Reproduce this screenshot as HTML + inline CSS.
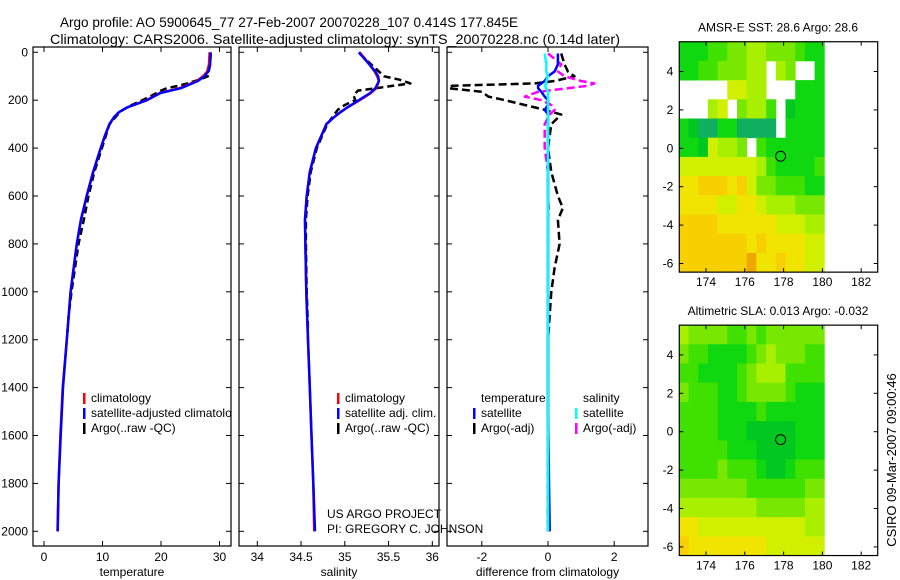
<!DOCTYPE html>
<html><head><meta charset="utf-8">
<style>
html,body{margin:0;padding:0;background:#fff;}
svg{display:block;font-family:"Liberation Sans",sans-serif;}
text{fill:#000;}
</style></head>
<body>
<svg id="fig" width="900" height="580" viewBox="0 0 900 580" xmlns="http://www.w3.org/2000/svg">
<text x="60" y="27" font-size="14" textLength="458" lengthAdjust="spacingAndGlyphs">Argo profile: AO 5900645_77 27-Feb-2007 20070228_107 0.414S 177.845E</text>
<text x="50" y="44" font-size="14" textLength="570" lengthAdjust="spacingAndGlyphs">Climatology: CARS2006. Satellite-adjusted climatology: synTS_20070228.nc (0.14d later)</text>
<g id="plots"></g>
<text x="327" y="518" font-size="12">US ARGO PROJECT</text>
<text x="327" y="533" font-size="12">PI: GREGORY C. JOHNSON</text>
<text transform="translate(896,460) rotate(-90)" text-anchor="middle" font-size="13">CSIRO 09-Mar-2007 09:00:46</text>
</svg>
<script>
// ---- profile data ----
const presClim = [0,50,80,100,120,150,170,200,230,250,270,300,350,400,500,600,700,800,1000,1200,1400,1600,1800,2000];
const tempClim = [28.3,28.2,27.9,27.2,26.1,23.2,19.8,17.5,14.2,12.8,12.0,11.2,10.4,9.7,8.4,7.3,6.3,5.6,4.55,3.9,3.2,2.8,2.5,2.3];
const tempSatAdj = [28.5,28.4,28.1,27.4,26.3,23.4,19.9,17.6,14.2,12.8,12.0,11.2,10.4,9.7,8.4,7.3,6.3,5.6,4.55,3.9,3.25,2.85,2.5,2.34];
const salClim = [35.17,35.28,35.34,35.37,35.39,35.36,35.3,35.17,35.03,34.95,34.88,34.79,34.73,34.67,34.6,34.565,34.545,34.55,34.56,34.58,34.6,34.62,34.64,34.65];
const salSatAdj = [35.16,35.28,35.35,35.38,35.39,35.35,35.29,35.16,35.03,34.95,34.88,34.79,34.73,34.67,34.6,34.565,34.545,34.55,34.56,34.58,34.6,34.62,34.64,34.66];
const presArgo = [5,50,100,115,130,140,150,160,180,200,220,240,260,300,400,500,600,700,800,900,1000,1100,1170];
const tempArgo = [28.5,28.4,28.0,26.5,24.5,23.0,21.0,20.0,18.5,16.8,15.0,13.5,12.6,11.2,9.9,8.6,7.6,6.8,5.9,5.3,4.7,4.2,4.0];
const salArgo = [35.17,35.3,35.45,35.63,35.75,35.55,35.36,35.15,35.1,35.12,35.0,34.92,34.88,34.8,34.68,34.61,34.575,34.555,34.555,34.56,34.565,34.575,34.58];
const presDiff = [5,50,80,100,120,130,140,150,165,185,200,220,240,260,300,400,500,600,650,700,800,900,1000,1200,1500,2000];
const dTempArgo = [0.4,0.5,0.6,0.8,0.2,-0.4,-2.9,-3.0,-2.0,-1.8,-1.3,-0.7,-0.1,0.4,0.1,0.0,0.1,0.3,0.45,0.3,0.35,0.2,0.1,0.0,0.0,0.0];
const dSalArgo = [0.0,0.4,0.3,0.5,1.0,1.4,1.2,0.6,-0.3,-0.7,-0.2,0.1,0.2,0.05,-0.1,-0.1,0.0,0.0,0.02,0.0,0.0,0.0,0.0,0.0,0.0,0.0];
const dTempSat = [0.3,0.3,0.2,0.0,-0.1,-0.2,-0.3,-0.3,-0.2,-0.1,0.0,0.0,-0.1,0.0,0.0,0,0,0,0,0,0,0,0,0,0,0.05];
const dSalSat = [-0.1,-0.05,-0.05,0,-0.05,-0.05,-0.1,-0.05,0,0,0,0,0,0,0,0,0,0,0,0,0,0,0,0,0,0];
const presTicks = [0,200,400,600,800,1000,1200,1400,1600,1800,2000];
const tempTicks = [0,10,20,30];
const salTicks = [34,34.5,35,35.5,36];
const salTickLabels = ["34","34.5","35","35.5","36"];
const diffTicks = [-2,0,2];
// ---- map data (rows: lat 5.5 -> -6.5, 1 deg; cols: lon 172.6 -> 180.1, 0.5 deg) ----
const sstRows = ["222334455444322","223344455.54..2",".....6655...222","...56.4553.1222","2100220000.2222","2216554.3222222","666666665322223","778887864433322","777766776555444","888877777766655","888888878777766","888888897787766"];
const slaRows = ["544443343444444","433222234544433","332222345553333","433322344443222","333322223222222","333322211111222","333332221111222","333343332112333","444444433333344","555555554444455","776666666666655","877777777666666"];
const palette = ["#10b060","#00c820","#10d810","#40e000","#78e800","#a8f000","#d0f000","#f0e400","#f8d000","#f0a800"];
const lonTicks = [174,176,178,180,182];
const latTicks = [4,2,0,-2,-4,-6];
const floatLon = 177.845, floatLat = -0.414;

const NS="http://www.w3.org/2000/svg";
const root=document.getElementById('plots');
function mk(tag,attrs,parent){const e=document.createElementNS(NS,tag);for(const k in attrs)e.setAttribute(k,attrs[k]);(parent||root).appendChild(e);return e;}
const yP = p => 52.3 + 0.2395*p;

function panel(name,x0,x1,xs,ticks,labels,xlabel,showY){
  const g=mk('g',{});
  
  
  const top=47,bot=546;
  const r=mk('rect',{x:x0,y:top,width:x1-x0,height:bot-top,fill:'none',stroke:'#000','stroke-width':1.2},g);
  
  
  ticks.forEach((t,i)=>{
    const x=xs(t);
    mk('line',{x1:x,x2:x,y1:bot,y2:bot-5,stroke:'#000'},g);
    mk('line',{x1:x,x2:x,y1:top,y2:top+5,stroke:'#000'},g);
    const tl=mk('text',{x:x,y:bot+15,'font-size':12,'text-anchor':'middle'},g);
    
    
    tl.textContent=labels[i];
  });
  presTicks.forEach(p=>{
    const y=yP(p);
    mk('line',{x1:x0,x2:x0+5,y1:y,y2:y,stroke:'#000'},g);
    mk('line',{x1:x1,x2:x1-5,y1:y,y2:y,stroke:'#000'},g);
    if(showY){
      const tl=mk('text',{x:x0-5,y:y+4,'font-size':12,'text-anchor':'end'},g);
      
      
      tl.textContent=p;
    }
  });
  const xl=mk('text',{x:(x0+x1)/2,y:576,'font-size':12,'text-anchor':'middle'},g);
  
  
  xl.textContent=xlabel;
  const cp=mk('clipPath',{id:name+'-clip'},g);
  mk('rect',{x:x0,y:top,width:x1-x0,height:bot-top},cp);
  return g;
}
function series(g,clip,name,P,V,xs,color,w,dash){
  const d=P.map((p,i)=>(i?'L':'M')+xs(V[i]).toFixed(1)+','+yP(p).toFixed(1)).join('');
  const a={d:d,fill:'none',stroke:color,'stroke-width':w,'clip-path':'url(#'+clip+'-clip)','stroke-linejoin':'round'};
  if(dash)a['stroke-dasharray']=dash;
  const e=mk('path',a,g);
  
  
}
function legend(g,clip,x,y,color,label){
  if(color){mk('rect',{x:x,y:y-9,width:2.5,height:11,fill:color},g);}
  const t=mk('text',{x:x+8,y:y,'font-size':12,'clip-path':'url(#'+clip+'-clip)'},g);
  
  
  t.textContent=label;
}

// temperature panel
const xT=t=>44+5.85*t;
const g1=panel('temperature-panel',33,231,xT,tempTicks,tempTicks.map(String),'temperature',true);
series(g1,'temperature-panel','argo-temperature-line',presArgo,tempArgo,xT,'#000',2.5,'7,4');
series(g1,'temperature-panel','climatology-temperature-line',presClim,tempClim,xT,'#f00',2.5);
series(g1,'temperature-panel','satellite-temperature-line',presClim,tempSatAdj,xT,'#00f',2.5);
legend(g1,'temperature-panel',83,402,'#f00','climatology');
legend(g1,'temperature-panel',83,417,'#00f','satellite-adjusted climatology');
legend(g1,'temperature-panel',83,432,'#000','Argo(..raw -QC)');

// salinity panel
const xS=s=>257.3+87.5*(s-34);
const g2=panel('salinity-panel',239,439,xS,salTicks,salTickLabels,'salinity',false);
series(g2,'salinity-panel','argo-salinity-line',presArgo,salArgo,xS,'#000',2.5,'7,4');
series(g2,'salinity-panel','climatology-salinity-line',presClim,salClim,xS,'#f00',2.5);
series(g2,'salinity-panel','satellite-salinity-line',presClim,salSatAdj,xS,'#00f',2.5);
legend(g2,'salinity-panel',337,402,'#f00','climatology');
legend(g2,'salinity-panel',337,417,'#00f','satellite adj. clim.');
legend(g2,'salinity-panel',337,432,'#000','Argo(..raw -QC)');

// difference panel
const xD=d=>548+33.1*d;
const g3=panel('difference-panel',447,648,xD,diffTicks,['-2','0','2'],'difference from climatology',false);
series(g3,'difference-panel','argo-temperature-diff-line',presDiff,dTempArgo,xD,'#000',2.5,'8,4');
series(g3,'difference-panel','argo-salinity-diff-line',presDiff,dSalArgo,xD,'#f0f',2.5,'8,4');
series(g3,'difference-panel','satellite-temperature-diff-line',presDiff,dTempSat,xD,'#00f',2.5);
series(g3,'difference-panel','satellite-salinity-diff-line',presDiff,dSalSat,xD,'#0ff',2.5);
legend(g3,'difference-panel',473,402,null,'temperature');
legend(g3,'difference-panel',575,402,null,'salinity');
legend(g3,'difference-panel',473,417,'#00f','satellite');
legend(g3,'difference-panel',575,417,'#0ff','satellite');
legend(g3,'difference-panel',473,432,'#000','Argo(-adj)');
legend(g3,'difference-panel',575,432,'#f0f','Argo(-adj)');

// maps
const xL=l=>706+19.4*(l-174);
function map(name,rows,off,title){
  const g=mk('g',{});
  
  
  const yL=l=>148.3+off-19.2*l;
  const lat0=5.55;
  rows.forEach((row,ri)=>{
    for(let ci=0;ci<row.length;ci++){
      const ch=row[ci]; if(ch==='.')continue;
      const lon=172.6+0.5*ci, lat=lat0-ri;
      const x=xL(lon), y=yL(lat);
      const c=mk('rect',{x:x.toFixed(1),y:y.toFixed(1),width:(xL(lon+0.5)-x+0.4).toFixed(1),height:(yL(lat-1)-y+0.4).toFixed(1),fill:palette[+ch]},g);
      
      
    }
  });
  const top=yL(5.55), bot=yL(-6.45), left=679.3, right=877.7;
  mk('rect',{x:left,y:top,width:right-left,height:bot-top,fill:'none',stroke:'#000','stroke-width':1.2},g);
  lonTicks.forEach(l=>{
    const x=xL(l);
    mk('line',{x1:x,x2:x,y1:bot,y2:bot-4,stroke:'#000'},g);
    mk('line',{x1:x,x2:x,y1:top,y2:top+4,stroke:'#000'},g);
    const t=mk('text',{x:x,y:bot+14,'font-size':12,'text-anchor':'middle'},g);
    
    
    t.textContent=l;
  });
  latTicks.forEach(l=>{
    const y=yL(l);
    mk('line',{x1:left,x2:left+4,y1:y,y2:y,stroke:'#000'},g);
    mk('line',{x1:right,x2:right-4,y1:y,y2:y,stroke:'#000'},g);
    const t=mk('text',{x:left-6,y:y+4,'font-size':12,'text-anchor':'end'},g);
    
    
    t.textContent=l;
  });
  const c=mk('circle',{cx:xL(floatLon),cy:yL(floatLat),r:5,fill:'none',stroke:'#000','stroke-width':1},g);
  
  
  const t=mk('text',{x:778,y:top-10,'font-size':12,'text-anchor':'middle'},g);
  
  
  t.textContent=title;
}
map('sst-map',sstRows,0,'AMSR-E SST: 28.6 Argo: 28.6');
map('sla-map',slaRows,283.4,'Altimetric SLA: 0.013 Argo: -0.032');
</script>
</body></html>
